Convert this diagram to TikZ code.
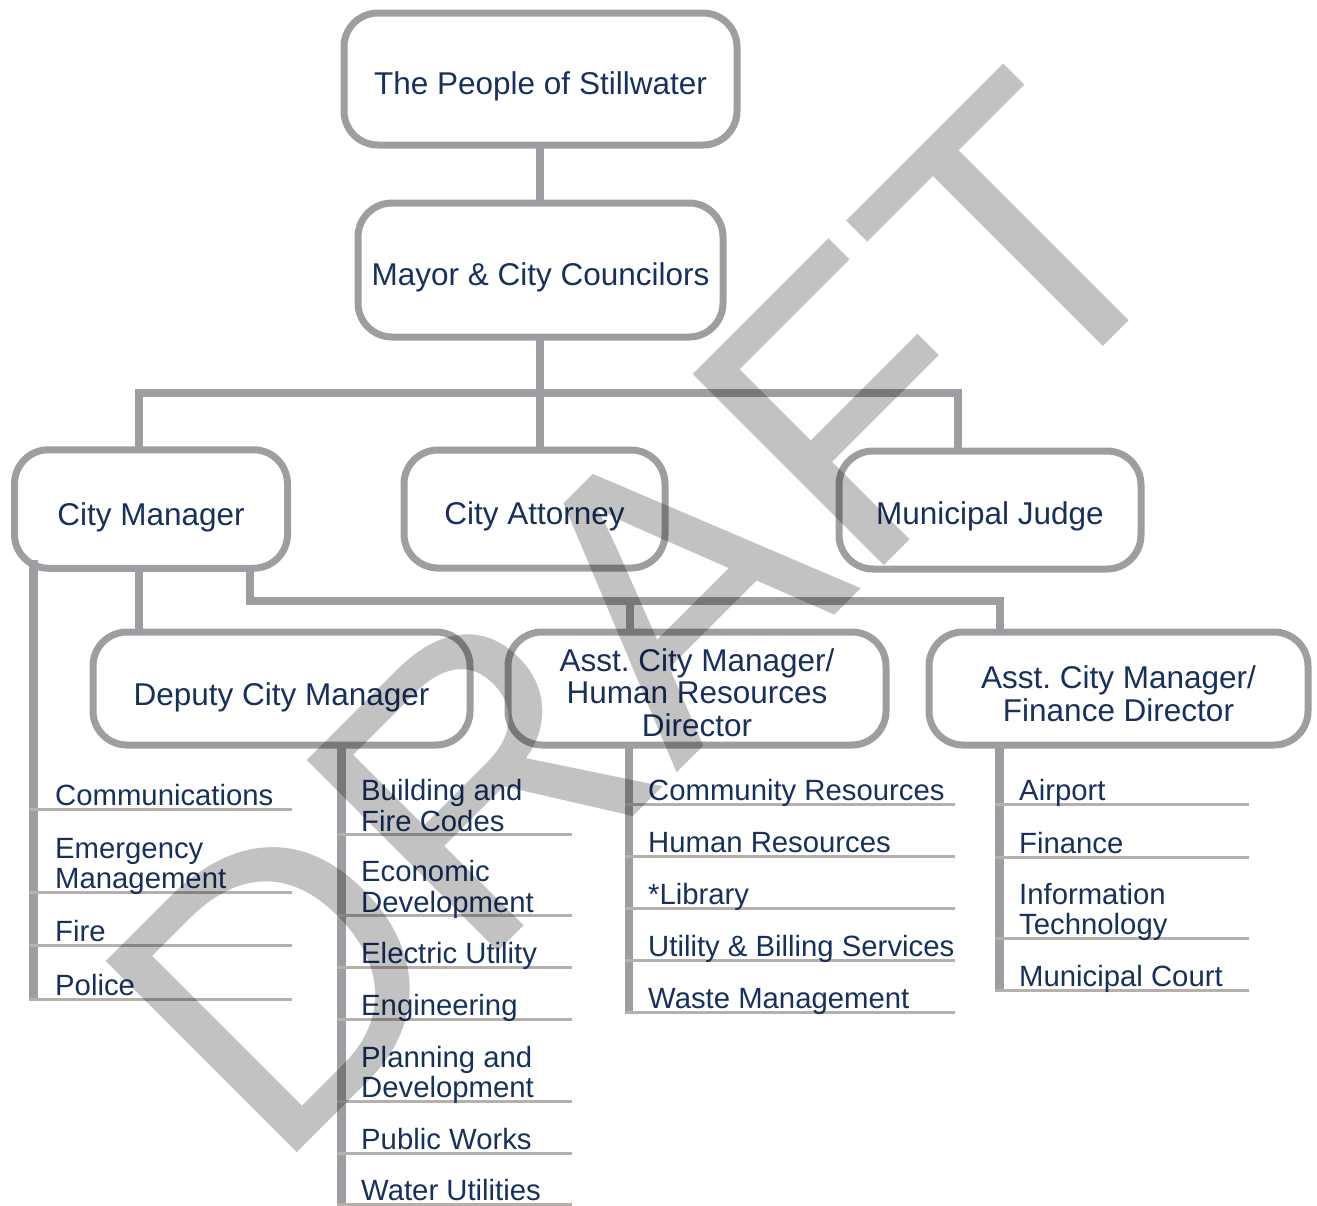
\documentclass[tikz,border=0pt]{standalone}
\usepackage{fontspec}
\setmainfont{Liberation Sans}
\frenchspacing
\definecolor{boxgray}{HTML}{9D9EA2}
\definecolor{ulgray}{HTML}{B5B0AC}
\definecolor{navy}{HTML}{17305C}
\definecolor{wmgray}{HTML}{C3C2C3}
\begin{document}
\begin{tikzpicture}[x=1pt,y=-1pt,
  orgbox/.style={draw=boxgray, line width=7pt, rounded corners=34pt, inner sep=0pt},
  boxtext/.style={text=navy, font=\fontsize{31.5}{32}\selectfont, inner sep=0pt, anchor=base},
  itemtext/.style={text=navy, font=\fontsize{29.3}{29.5}\selectfont, inner sep=0pt, anchor=base west},
  conn/.style={draw=boxgray, line width=8pt, line join=miter},
  listbar/.style={draw=boxgray, line width=8.5pt},
  uline/.style={draw=ulgray, line width=3pt},
]
\useasboundingbox (0,0) rectangle (1317,1205);

% connectors
\draw[conn] (540,145) -- (540,203);
\draw[conn] (138.5,449.5) -- (138.5,392.5) -- (958,392.5) -- (958,451);
\draw[conn] (540,337) -- (540,450);
\draw[conn] (138.5,568) -- (138.5,632);
\draw[conn] (249.5,568) -- (249.5,601) -- (999.5,601) -- (999.5,632);
\draw[conn] (630,601) -- (630,632);

% list bars
\draw[listbar] (33.5,560) -- (33.5,1000);
\draw[listbar] (341.5,745) -- (341.5,1205);
\draw[listbar] (629,745) -- (629,1013);
\draw[listbar] (999.5,745) -- (999.5,991);

% boxes
\node[orgbox, minimum width=393pt, minimum height=132pt] (people) at (540.5,79) {};
\node[orgbox, minimum width=365pt, minimum height=134pt] (mayor) at (540.5,270) {};
\node[orgbox, minimum width=273pt, minimum height=118.5pt] (cm) at (151,509) {};
\node[orgbox, minimum width=261pt, minimum height=118pt] (ca) at (534.5,509) {};
\node[orgbox, minimum width=302pt, minimum height=118pt] (mj) at (990,510) {};
\node[orgbox, minimum width=377pt, minimum height=113pt] (dcm) at (281.5,688.5) {};
\node[orgbox, minimum width=378pt, minimum height=113pt] (hr) at (697,688.5) {};
\node[orgbox, minimum width=379pt, minimum height=113pt] (fin) at (1118.5,688.5) {};

% box texts
\node[boxtext] (peopleT) at (540.5,94) {The People of Stillwater};
\node[boxtext] (mayorT) at (540.5,285) {Mayor \& City Councilors};
\node[boxtext] (cmT) at (151,525) {City Manager};
\node[boxtext] (caT) at (534.5,524) {City Attorney};
\node[boxtext] (mjT) at (990,524) {Municipal Judge};
\node[boxtext] (dcmT) at (281.5,705) {Deputy City Manager};
\node[boxtext] (hrT) at (697,736) {\begin{tabular}[b]{@{}c@{}}Asst. City Manager/\\Human Resources\\Director\end{tabular}};
\node[boxtext] (finT) at (1118.5,721) {\begin{tabular}[b]{@{}c@{}}Asst. City Manager/\\Finance Director\end{tabular}};

% underlines
\foreach \y in {809,892,945,999} \draw[uline] (29,\y) -- (292,\y);
\foreach \y in {834,915,967,1019,1101,1153,1204} \draw[uline] (337,\y) -- (572,\y);
\foreach \y in {804,856,908,960,1012} \draw[uline] (625,\y) -- (955,\y);
\foreach \y in {804,857,938,990} \draw[uline] (995,\y) -- (1249,\y);

% list items
\node[itemtext] (i1) at (55,805) {Communications};
\node[itemtext] (i2) at (55,888) {\begin{tabular}[b]{@{}l@{}}Emergency\\Management\end{tabular}};
\node[itemtext] (i3) at (55,941.5) {Fire};
\node[itemtext] (i4) at (55,995.5) {Police};

\node[itemtext] (d1) at (361,831) {\begin{tabular}[b]{@{}l@{}}Building and\\Fire Codes\end{tabular}};
\node[itemtext] (d2) at (361,912) {\begin{tabular}[b]{@{}l@{}}Economic\\Development\end{tabular}};
\node[itemtext] (d3) at (361,963.5) {Electric Utility};
\node[itemtext] (d4) at (361,1015.5) {Engineering};
\node[itemtext] (d5) at (361,1097.5) {\begin{tabular}[b]{@{}l@{}}Planning and\\Development\end{tabular}};
\node[itemtext] (d6) at (361,1149.5) {Public Works};
\node[itemtext] (d7) at (361,1200.5) {Water Utilities};

\node[itemtext] (h1) at (648,800.5) {Community Resources};
\node[itemtext] (h2) at (648,852.5) {Human Resources};
\node[itemtext] (h3) at (648,904.5) {*Library};
\node[itemtext] (h4) at (648,956.5) {Utility \& Billing Services};
\node[itemtext] (h5) at (648,1008.5) {Waste Management};

\node[itemtext] (f1) at (1019,800.5) {Airport};
\node[itemtext] (f2) at (1019,853) {Finance};
\node[itemtext] (f3) at (1019,934.5) {\begin{tabular}[b]{@{}l@{}}Information\\Technology\end{tabular}};
\node[itemtext] (f4) at (1019,986.5) {Municipal Court};

% watermark
\begin{scope}[blend mode=multiply]
\node[text=wmgray, font=\fontsize{393}{393}\selectfont, rotate=45, anchor=base, inner sep=0pt] (draft) at (738,712) {DRAFT};
\end{scope}
\end{tikzpicture}
\end{document}
